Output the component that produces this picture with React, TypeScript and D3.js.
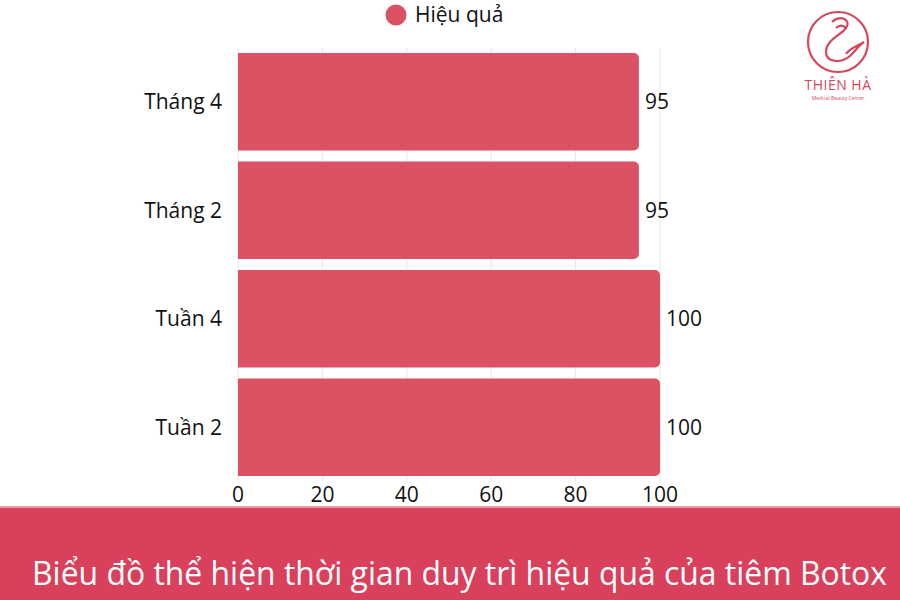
import React from "react";
import * as d3 from "d3";

const categories = ["Tháng 4", "Tháng 2", "Tuần 4", "Tuần 2"];
const values = [95, 95, 100, 100];
const ticks = [0, 20, 40, 60, 80, 100];
const seriesName = "Hiệu quả";
const title = "Biểu đồ thể hiện thời gian duy trì hiệu quả của tiêm Botox";

const W = 900, H = 600;
const FONT = "'Open Sans', 'Noto Sans', sans-serif";
const BAR = "#db5264";

function barPath(x0: number, x1: number, y: number, h: number, r: number) {
  return `M${x0},${y}H${x1 - r}A${r},${r} 0 0 1 ${x1},${y + r}V${y + h - r}A${r},${r} 0 0 1 ${x1 - r},${y + h}H${x0}Z`;
}

export default function App() {
  const x = d3.scaleLinear().domain([0, 100]).range([238, 660]);
  const y = d3.scaleBand<string>().domain(categories).range([47.5, 481.5]).paddingInner(0.1).paddingOuter(0.05);
  return (
    <svg width={W} height={H} style={{ position: "absolute", left: 0, top: 0, background: "#fff" }}>
      <rect x={0} y={0} width={W} height={H} fill="#fff" />
      {ticks.map((t) => (
        <line key={t} x1={x(t)} x2={x(t)} y1={48} y2={482} stroke="#e8e8e8" strokeWidth={1} />
      ))}
      {categories.map((c, i) => (
        <g key={c}>
          <path d={barPath(x(0), x(values[i]), y(c)!, y.bandwidth(), 5)} fill={BAR} />
          <text x={x(values[i]) + 6} y={y(c)! + y.bandwidth() / 2} dy="0.35em" fontFamily={FONT} fontSize={21} fill="#111">
            {values[i]}
          </text>
          <text x={222} y={y(c)! + y.bandwidth() / 2} dy="0.35em" textAnchor="end" fontFamily={FONT} fontSize={21} fill="#111">
            {c}
          </text>
        </g>
      ))}
      {ticks.map((t) => (
        <text key={t} x={x(t)} y={495} dy="0.35em" textAnchor="middle" fontFamily={FONT} fontSize={21} fill="#111">
          {t}
        </text>
      ))}
      <circle cx={396} cy={15} r={10.5} fill={BAR} />
      <text x={415} y={15} dy="0.35em" fontFamily={FONT} fontSize={21} fill="#111">{seriesName}</text>
      <rect x={0} y={506} width={W} height={94} fill="#d9405b" />
      <rect x={0} y={506} width={W} height={2} fill="#ec9aa6" />
      <text transform="translate(32,585) scale(0.9,1)" fontFamily={FONT} fontSize={32} fill="#fff" textLength={950} lengthAdjust="spacingAndGlyphs">{title}</text>
      <g fill="none" stroke="#d6475c" strokeWidth={2.2}>
        <circle cx={838} cy={42} r={30} />
        <path d="M832,22 C840,14 852,20 846,28 C840,36 826,40 826,52 C826,62 840,64 850,56 C856,50 860,44 864,42 C858,46 850,48 846,54" />
        <path d="M846,28 C842,24 838,26 836,28" />
      </g>
      <text x={838} y={90} textAnchor="middle" fontFamily={FONT} fontSize={14} fill="#d6475c" letterSpacing={0.5}>THIÊN HÀ</text>
      <text x={838} y={100} textAnchor="middle" fontFamily={FONT} fontSize={5} fill="#d6475c">Medical Beauty Center</text>
    </svg>
  );
}
